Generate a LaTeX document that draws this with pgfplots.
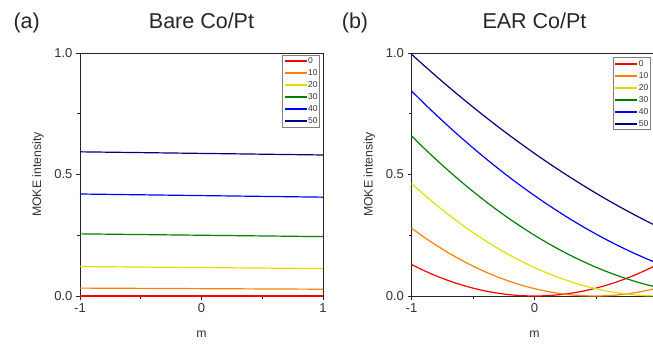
\documentclass[border=0pt]{standalone}
\usepackage{pgfplots}
\pgfplotsset{compat=1.18}
\usepackage{fontspec}
\setmainfont{Liberation Sans}
\definecolor{cred}{RGB}{255,0,0}
\definecolor{corange}{RGB}{255,128,0}
\definecolor{cyellow}{RGB}{225,225,0}
\definecolor{cgreen}{RGB}{0,128,0}
\definecolor{cblue}{RGB}{0,0,255}
\definecolor{cnavy}{RGB}{0,0,128}
\pgfplotsset{mokestyle/.style={
  scale only axis, width=243pt, height=243pt, anchor=south west,
  xmin=-1, xmax=1, ymin=0, ymax=1,
  xtick={-1,0,1}, xticklabels={-1,0,1}, minor xtick={-0.5,0.5},
  ytick={0,0.5,1}, yticklabels={0.0,0.5,1.0}, minor ytick={0.25,0.75},
  tick pos=left, tick align=outside,
  major tick length=4pt, minor tick length=3pt,
  every tick/.style={black!85, line width=0.6pt},
  axis line style={black!85, line width=0.8pt},
  ticklabel style={font=\fontsize{13}{13}\selectfont, text=black!80},
  xlabel={m}, ylabel={MOKE intensity},
  label style={font=\fontsize{12.3}{13}\selectfont, text=black!80},
  xlabel style={at={(axis description cs:0.5,0)}, anchor=base, yshift=-42pt},
  ylabel style={at={(axis description cs:0,0.5)}, anchor=center, yshift=42pt},
  clip=false,
  legend cell align=left,
  legend style={draw=gray, line width=0.5pt, font=\fontsize{8.5}{8.5}\selectfont, text=black!80,
    inner xsep=1pt, inner ysep=1.5pt, row sep=3pt,
    nodes={inner sep=0.5pt, text height=6.5pt, text depth=1.5pt}},
  legend image code/.code={\draw[#1, line width=2pt] (0pt,0pt) -- (22pt,0pt);},
  every axis plot/.append style={line width=1.2pt, no markers},
}}
\begin{document}
\begin{tikzpicture}
\begin{axis}[mokestyle, at={(80pt,51pt)},
  legend style={at={(0.985,0.992)}, anchor=north east}]
\addplot[cred] coordinates {(-1,0.0000) (0,0.0000) (1,0.0000)};
\addplot[corange] coordinates {(-1,0.0325) (0,0.0302) (1,0.0279)};
\addplot[cyellow] coordinates {(-1,0.1212) (0,0.1170) (1,0.1128)};
\addplot[cgreen] coordinates {(-1,0.2557) (0,0.2500) (1,0.2443)};
\addplot[cblue] coordinates {(-1,0.4197) (0,0.4132) (1,0.4067)};
\addplot[cnavy] coordinates {(-1,0.5933) (0,0.5868) (1,0.5803)};
\legend{0,10,20,30,40,50}
\end{axis}
\begin{axis}[mokestyle, at={(411.5pt,51pt)}, width=246pt,
  legend style={at={(0.9695,0.982)}, anchor=north east}]
\addplot[cred, smooth] coordinates {(-1,0.1296) (-0.9,0.1050) (-0.8,0.0829) (-0.7,0.0635) (-0.6,0.0467) (-0.5,0.0324) (-0.4,0.0207) (-0.3,0.0117) (-0.2,0.0052) (-0.1,0.0013) (0,0.0000) (0.1,0.0013) (0.2,0.0052) (0.3,0.0117) (0.4,0.0207) (0.5,0.0324) (0.6,0.0467) (0.7,0.0635) (0.8,0.0829) (0.9,0.1050) (1,0.1296)};
\addplot[corange, smooth] coordinates {(-1,0.2790) (-0.9,0.2428) (-0.8,0.2091) (-0.7,0.1779) (-0.6,0.1493) (-0.5,0.1231) (-0.4,0.0995) (-0.3,0.0784) (-0.2,0.0598) (-0.1,0.0437) (0,0.0302) (0.1,0.0191) (0.2,0.0106) (0.3,0.0045) (0.4,0.0010) (0.5,0.0000) (0.6,0.0015) (0.7,0.0056) (0.8,0.0121) (0.9,0.0212) (1,0.0327)};
\addplot[cyellow, smooth] coordinates {(-1,0.4628) (-0.9,0.4179) (-0.8,0.3753) (-0.7,0.3350) (-0.6,0.2970) (-0.5,0.2613) (-0.4,0.2279) (-0.3,0.1967) (-0.2,0.1678) (-0.1,0.1413) (0,0.1170) (0.1,0.0950) (0.2,0.0753) (0.3,0.0579) (0.4,0.0427) (0.5,0.0299) (0.6,0.0193) (0.7,0.0111) (0.8,0.0051) (0.9,0.0014) (1,0.0000)};
\addplot[cgreen, smooth] coordinates {(-1,0.6590) (-0.9,0.6093) (-0.8,0.5616) (-0.7,0.5159) (-0.6,0.4721) (-0.5,0.4302) (-0.4,0.3903) (-0.3,0.3523) (-0.2,0.3162) (-0.1,0.2822) (0,0.2500) (0.1,0.2198) (0.2,0.1915) (0.3,0.1652) (0.4,0.1408) (0.5,0.1184) (0.6,0.0979) (0.7,0.0794) (0.8,0.0628) (0.9,0.0481) (1,0.0354)};
\addplot[cblue, smooth] coordinates {(-1,0.8438) (-0.9,0.7939) (-0.8,0.7455) (-0.7,0.6986) (-0.6,0.6533) (-0.5,0.6095) (-0.4,0.5672) (-0.3,0.5264) (-0.2,0.4871) (-0.1,0.4494) (0,0.4132) (0.1,0.3785) (0.2,0.3453) (0.3,0.3137) (0.4,0.2835) (0.5,0.2549) (0.6,0.2278) (0.7,0.2023) (0.8,0.1782) (0.9,0.1557) (1,0.1347)};
\addplot[cnavy, smooth] coordinates {(-1,0.9949) (-0.9,0.9493) (-0.8,0.9047) (-0.7,0.8612) (-0.6,0.8188) (-0.5,0.7775) (-0.4,0.7372) (-0.3,0.6980) (-0.2,0.6599) (-0.1,0.6228) (0,0.5868) (0.1,0.5519) (0.2,0.5181) (0.3,0.4853) (0.4,0.4536) (0.5,0.4229) (0.6,0.3934) (0.7,0.3649) (0.8,0.3375) (0.9,0.3111) (1,0.2858)};
\legend{0,10,20,30,40,50}
\end{axis}
\node[anchor=base, font=\fontsize{21.5}{22}\selectfont, text=black!85] at (26.7pt,318.7pt) {(a)};
\node[anchor=base, font=\fontsize{21.5}{22}\selectfont, text=black!85] at (201.5pt,318.7pt) {Bare Co/Pt};
\node[anchor=base, font=\fontsize{21.5}{22}\selectfont, text=black!85] at (355pt,318.7pt) {(b)};
\node[anchor=base, font=\fontsize{21.5}{22}\selectfont, text=black!85] at (534.5pt,318.7pt) {EAR Co/Pt};
\pgfresetboundingbox
\path[use as bounding box] (0pt,0pt) rectangle (653pt,347pt);
\end{tikzpicture}
\end{document}
